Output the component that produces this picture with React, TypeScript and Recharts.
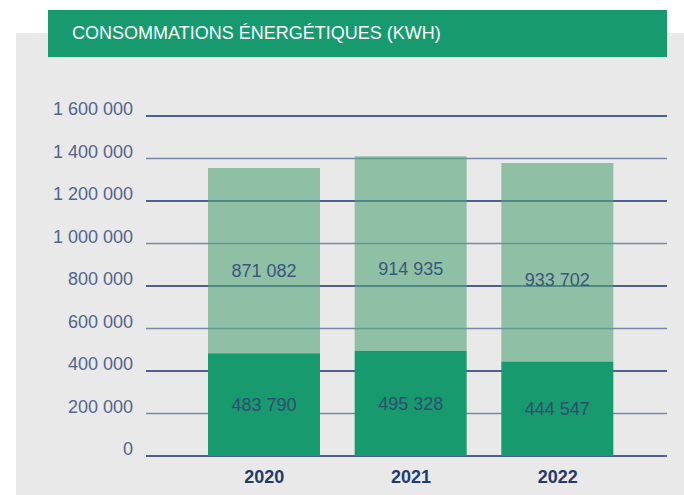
import React from 'react';
import { BarChart, Bar, XAxis, YAxis, CartesianGrid, LabelList } from 'recharts';

const years = ['2020', '2021', '2022'];
const baseValues = [483790, 495328, 444547];
const topValues = [871082, 914935, 933702];
const yTicks = [0, 200000, 400000, 600000, 800000, 1000000, 1200000, 1400000, 1600000];
const darkLines = yTicks.filter((_, i) => i % 2 === 0);
const lightLines = yTicks.filter((_, i) => i % 2 === 1);

const data = years.map((year, i) => ({ year, base: baseValues[i], top: topValues[i] }));

const fmt = (v: number) => String(v).replace(/\B(?=(\d{3})+(?!\d))/g, ' ');

const FONT = '"Liberation Sans", Arial, sans-serif';

const YTick = (props: any) => {
  const { x, y, payload } = props;
  return (
    <text x={x} y={y} dy={-1} textAnchor="end" fill="#52648e" fontSize={18} fontFamily={FONT}>
      {fmt(payload.value)}
    </text>
  );
};

const App: React.FC = () => {
  return (
    <div style={{ position: 'absolute', left: 0, top: 0, width: 684, height: 495, background: '#fff' }}>
      <div style={{ position: 'absolute', left: 16, top: 33, width: 668, height: 462, background: '#e9e9e9' }} />
      <div
        style={{
          position: 'absolute',
          left: 48,
          top: 10,
          width: 619,
          height: 47,
          background: '#169a6e',
          color: '#fff',
          fontFamily: FONT,
          fontSize: 18,
          lineHeight: '46px',
          paddingLeft: 24,
          boxSizing: 'border-box',
        }}
      >
        CONSOMMATIONS ÉNERGÉTIQUES (KWH)
      </div>
      <div style={{ position: 'absolute', left: 0, top: 0 }}>
        <BarChart width={684} height={495} data={data} margin={{ top: 116, right: 17, bottom: 9, left: 0 }}>
          <CartesianGrid vertical={false} horizontalValues={lightLines} stroke="#7a87a8" strokeWidth={1.5} />
          <CartesianGrid vertical={false} horizontalValues={darkLines} stroke="#1b3170" strokeWidth={1.3} />
          <XAxis
            dataKey="year"
            height={30}
            axisLine={false}
            tickLine={false}
            tickMargin={8}
            padding={{ left: 45, right: 36 }}
            tick={{ fill: '#233a6e', fontSize: 18, fontWeight: 'bold', fontFamily: FONT }}
          />
          <YAxis
            width={146}
            domain={[0, 1600000]}
            ticks={yTicks}
            axisLine={false}
            tickLine={false}
            tickMargin={7}
            tick={<YTick />}
          />
          <Bar dataKey="base" stackId="a" fill="#169a6e" barSize={112} isAnimationActive={false}>
            <LabelList
              dataKey="base"
              position="center"
              formatter={(v: any) => fmt(Number(v))}
              fill="#2f4d70"
              fontSize={18}
              fontFamily={FONT}
            />
          </Bar>
          <Bar dataKey="top" stackId="a" fill="#53a579" fillOpacity={0.6} barSize={112} isAnimationActive={false}>
            <LabelList
              dataKey="top"
              position="insideBottom"
              offset={76}
              formatter={(v: any) => fmt(Number(v))}
              fill="#3a5778"
              fontSize={18}
              fontFamily={FONT}
            />
          </Bar>
        </BarChart>
      </div>
    </div>
  );
};

export default App;
